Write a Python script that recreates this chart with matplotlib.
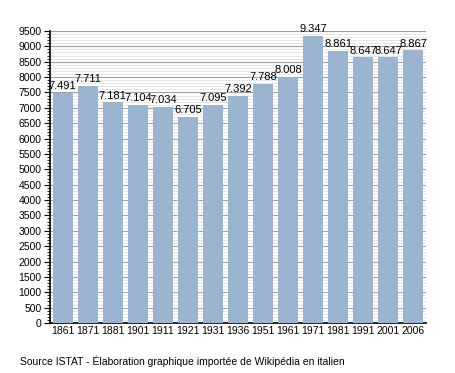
import matplotlib.pyplot as plt
from matplotlib.ticker import MultipleLocator

years = ['1861', '1871', '1881', '1901', '1911', '1921', '1931', '1936',
         '1951', '1961', '1971', '1981', '1991', '2001', '2006']
population = [7491, 7711, 7181, 7104, 7034, 6705, 7095, 7392,
              7788, 8008, 9347, 8861, 8647, 8647, 8867]

plt.rcParams['font.family'] = ['Liberation Sans', 'DejaVu Sans']

fig = plt.figure(figsize=(4.55, 3.73), dpi=100)
ax = fig.add_axes([0.110, 0.134, 0.826, 0.783])

x = range(len(years))
ax.bar(x, population, width=0.8, color='#9bb4cf', zorder=3)
for i, v in zip(x, population):
    label = f'{v:,}'.replace(',', '.')
    ax.text(i, v + 50, label, ha='center', va='bottom', fontsize=8, zorder=4)

ax.set_xlim(-0.5, len(years) - 0.5)
ax.set_ylim(0, 9500)
ax.set_xticks(list(x))
ax.set_xticklabels(years, fontsize=7.5)
ax.yaxis.set_major_locator(MultipleLocator(500))
ax.yaxis.set_minor_locator(MultipleLocator(100))
ax.tick_params(axis='y', labelsize=7.5, length=4, width=0.8, pad=2)
ax.tick_params(axis='y', which='minor', length=2, width=0.6)
ax.tick_params(axis='x', length=0, pad=2)
ax.grid(axis='y', which='major', color='#a0a0a0', linewidth=0.8, zorder=0)
ax.grid(axis='y', which='minor', color='#e2e2e2', linewidth=0.6, zorder=0)

for side in ['top', 'right']:
    ax.spines[side].set_visible(False)
ax.spines['left'].set_linewidth(1.2)
ax.spines['bottom'].set_linewidth(1.2)

fig.text(0.044, 0.022, 'Source ISTAT - Élaboration graphique importée de Wikipédia en italien',
         fontsize=7.5)

fig.savefig('out.png', dpi=100)
